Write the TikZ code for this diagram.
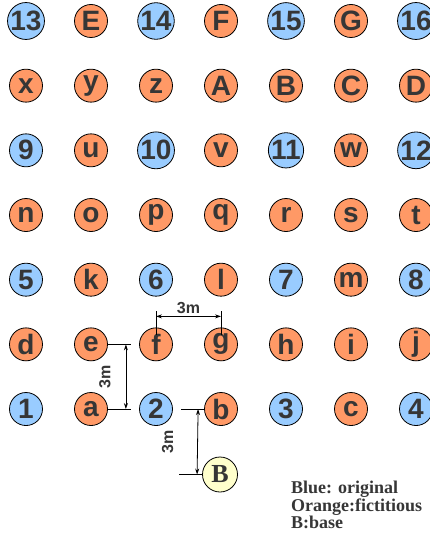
\documentclass[tikz,border=0pt]{standalone}
\usepackage{fontspec}
\setmainfont{Liberation Serif}
\setsansfont{Liberation Sans}
\usepackage{tikz}
\usetikzlibrary{arrows.meta, calc}

\definecolor{origblue}{HTML}{99CCFF}
\definecolor{fictorange}{HTML}{FF9966}
\definecolor{baseyellow}{HTML}{FFFFCC}
\definecolor{labgray}{HTML}{363636}

\begin{document}
\begin{tikzpicture}[
  x=1pt, y=-1pt,
  pt/.style={circle, draw=black, line width=0.8pt, minimum size=33pt, inner sep=0pt,
             text=labgray, font=\fontsize{28}{28}\selectfont\sffamily\bfseries},
  orig/.style={pt, fill=origblue},
  fict/.style={pt, fill=fictorange},
  basept/.style={pt, fill=baseyellow, minimum size=35pt,
                 font=\fontsize{26}{26}\selectfont\rmfamily\bfseries},
  ext/.style={line width=0.8pt},
  dimarr/.style={{Stealth[length=6pt,width=4pt]}-{Stealth[length=6pt,width=4pt]}, line width=0.8pt},
  dimlab/.style={text=labgray, font=\fontsize{16}{16}\selectfont\sffamily\bfseries}
]
  \useasboundingbox (0,0) rectangle (430,540);

  % grid of points, row by row
  \foreach \row/\labels in {0/{13,E,14,F,15,G,16}, 1/{x,y,z,A,B,C,D},
                            2/{9,u,10,v,11,w,12}, 3/{n,o,p,q,r,s,t},
                            4/{5,k,6,l,7,m,8},    5/{d,e,f,g,h,i,j},
                            6/{1,a,2,b,3,c,4}}{
    \foreach \lab [count=\c from 0] in \labels {
      \pgfmathtruncatemacro\isorig{(mod(\row,2)==0)&&(mod(\c,2)==0)}
      \ifnum\isorig=1 \def\sty{orig}\else\def\sty{fict}\fi
      \node[\sty] (p-\row-\c) at (26+65*\c, 21+64.67*\row) {\lab};
    }
  }

  \node[basept] (base) at (220,474.5) {B};

  % f -- g
  \draw[ext] ($(p-5-2.center)+(0,-9)$) -- ($(p-5-2.center)+(0,-33)$);
  \draw[ext] ($(p-5-3.center)+(0,-9)$) -- ($(p-5-3.center)+(0,-33)$);
  \draw[dimarr] ($(p-5-2.center)+(0,-28)$) -- node[dimlab, above=-1pt] {3m} ($(p-5-3.center)+(0,-28)$);

  % e -- a
  \draw[ext] (p-5-1.east) -- ++(23,0);
  \draw[ext] (p-6-1.east) -- ++(23,0);
  \draw[dimarr] ($(p-5-1.east)+(18,0)$) -- node[dimlab, rotate=90, yshift=21pt] {3m} ($(p-6-1.east)+(18,0)$);

  % b -- base
  \draw[ext] ($(p-6-3.west)+(-23,0)$) -- (p-6-3.west);
  \draw[ext] ($(base.west)+(-23,0)$) -- (base.west);
  \draw[dimarr] ($(p-6-3.west)+(-6,0)$) -- node[dimlab, rotate=90, yshift=30pt] {3m} ($(base.west)+(-5,0)$);

  % legend
  \node[anchor=north west, inner sep=0pt, align=left, text=labgray,
        font=\fontsize{18}{15}\selectfont\rmfamily\bfseries] (legend) at (291,481)
        {Blue: original\\Orange:fictitious\\B:base};
\end{tikzpicture}
\end{document}
